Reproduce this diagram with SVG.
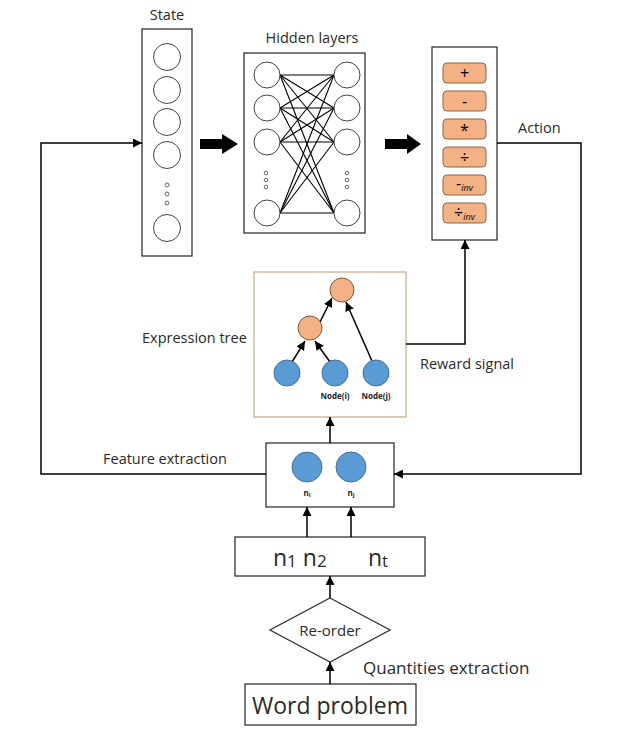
<svg xmlns="http://www.w3.org/2000/svg" width="640" height="749" viewBox="0 0 640 749">
<defs>
<style>
.box{fill:#fff;stroke:#333;stroke-width:1.3}
.nn{fill:#fff;stroke:#444;stroke-width:1}
.dot{fill:#fff;stroke:#666;stroke-width:1}
.op{fill:#F4B183;stroke:#8A6542;stroke-width:1}
.or{fill:#F4B183;stroke:#7a5a3a;stroke-width:1}
.bl{fill:#5B9BD5;stroke:#41719C;stroke-width:1}
.ln{fill:none;stroke:#000;stroke-width:1.5}
.wl{stroke:#000;stroke-width:1.1}
.t{font-family:"Open Sans","Noto Sans",sans-serif;fill:#2a2a2a}
.lab{font-size:14.5px}
.ops{font-size:16px;text-anchor:middle;fill:#000}
.sm{font-family:"Open Sans","Noto Sans",sans-serif;font-size:8px;font-weight:bold;fill:#222;text-anchor:middle}
</style>
<marker id="ah" viewBox="0 0 10 10" refX="10" refY="5" markerWidth="9" markerHeight="9" markerUnits="userSpaceOnUse" orient="auto">
<path d="M0,0 L10,5 L0,10 z" fill="#000"/>
</marker>
</defs>

<g id="state">
<text class="t lab" x="167" y="20" text-anchor="middle">State</text>
<rect class="box" x="142" y="29" width="50" height="227"/>
<circle class="nn" cx="167" cy="57" r="13.5"/>
<circle class="nn" cx="167" cy="90" r="13.5"/>
<circle class="nn" cx="167" cy="122" r="13.5"/>
<circle class="nn" cx="167" cy="155" r="13.5"/>
<circle class="dot" cx="167" cy="185" r="2"/>
<circle class="dot" cx="167" cy="194" r="2"/>
<circle class="dot" cx="167" cy="203" r="2"/>
<circle class="nn" cx="167" cy="228" r="13.5"/>
</g>

<g id="hidden">
<text class="t lab" x="312" y="43" text-anchor="middle">Hidden layers</text>
<rect class="box" x="244" y="53" width="121" height="180"/>
<g class="wl">
<line x1="280" y1="75" x2="334" y2="75"/><line x1="280" y1="75" x2="334" y2="108"/><line x1="280" y1="75" x2="334" y2="142"/><line x1="280" y1="75" x2="334" y2="213"/>
<line x1="280" y1="108" x2="334" y2="75"/><line x1="280" y1="108" x2="334" y2="108"/><line x1="280" y1="108" x2="334" y2="142"/><line x1="280" y1="108" x2="334" y2="213"/>
<line x1="280" y1="142" x2="334" y2="75"/><line x1="280" y1="142" x2="334" y2="108"/><line x1="280" y1="142" x2="334" y2="142"/><line x1="280" y1="142" x2="334" y2="213"/>
<line x1="280" y1="213" x2="334" y2="75"/><line x1="280" y1="213" x2="334" y2="108"/><line x1="280" y1="213" x2="334" y2="142"/><line x1="280" y1="213" x2="334" y2="213"/>
</g>
<circle class="nn" cx="267" cy="75" r="13"/>
<circle class="nn" cx="267" cy="108" r="13"/>
<circle class="nn" cx="267" cy="142" r="13"/>
<circle class="nn" cx="267" cy="213" r="13"/>
<circle class="nn" cx="347" cy="75" r="13"/>
<circle class="nn" cx="347" cy="108" r="13"/>
<circle class="nn" cx="347" cy="142" r="13"/>
<circle class="nn" cx="347" cy="213" r="13"/>
<circle class="dot" cx="266" cy="173" r="1.8"/><circle class="dot" cx="266" cy="180" r="1.8"/><circle class="dot" cx="266" cy="187" r="1.8"/>
<circle class="dot" cx="347" cy="173" r="1.8"/><circle class="dot" cx="347" cy="180" r="1.8"/><circle class="dot" cx="347" cy="187" r="1.8"/>
</g>

<g id="action">
<rect class="box" x="432" y="47" width="65" height="193"/>
<rect class="op" x="443" y="63" width="43" height="20" rx="4"/>
<rect class="op" x="443" y="91" width="43" height="20" rx="4"/>
<rect class="op" x="443" y="119" width="43" height="20" rx="4"/>
<rect class="op" x="443" y="147" width="43" height="20" rx="4"/>
<rect class="op" x="443" y="175" width="43" height="20" rx="4"/>
<rect class="op" x="443" y="203" width="43" height="20" rx="4"/>
<text class="t ops" x="464.5" y="79">+</text>
<text class="t ops" x="464.5" y="107">-</text>
<text class="t ops" x="464.5" y="136">*</text>
<text class="t ops" x="464.5" y="163">÷</text>
<text class="t ops" x="464.5" y="189">-<tspan font-size="9" font-style="italic" dy="2">inv</tspan></text>
<text class="t ops" x="464.5" y="218">÷<tspan font-size="9" font-style="italic" dy="2">inv</tspan></text>
<text class="t lab" x="518" y="133">Action</text>
</g>

<g id="exprtree">
<text class="t lab" x="142" y="343">Expression tree</text>
<rect x="254" y="272" width="152" height="145" fill="#fff" stroke="#C8A888" stroke-width="1.2"/>
<line class="ln" x1="292" y1="362" x2="305" y2="341" stroke-width="1.2" marker-end="url(#ah)"/>
<line class="ln" x1="330" y1="362" x2="315" y2="341" stroke-width="1.2" marker-end="url(#ah)"/>
<line class="ln" x1="320" y1="322" x2="332" y2="298" stroke-width="1.2" marker-end="url(#ah)"/>
<line class="ln" x1="372" y1="361" x2="346" y2="302" stroke-width="1.2" marker-end="url(#ah)"/>
<circle class="or" cx="342" cy="290" r="12"/>
<circle class="or" cx="310" cy="328" r="12"/>
<circle class="bl" cx="287" cy="373" r="13"/>
<circle class="bl" cx="335" cy="373" r="13"/>
<circle class="bl" cx="376" cy="373" r="13"/>
<text class="sm" x="335" y="399">Node(i)</text>
<text class="sm" x="376" y="399">Node(j)</text>
<text class="t lab" x="420" y="369">Reward signal</text>
</g>

<g id="feature">
<text class="t lab" x="103" y="464">Feature extraction</text>
<rect class="box" x="266" y="443" width="128" height="64"/>
<circle class="bl" cx="307" cy="467" r="15"/>
<circle class="bl" cx="351" cy="467" r="15"/>
<text class="sm" x="307" y="496">n<tspan font-size="6" dy="1">i</tspan></text>
<text class="sm" x="351" y="496">n<tspan font-size="6" dy="1">j</tspan></text>
</g>

<g id="quantities">
<rect class="box" x="235" y="537" width="190" height="39"/>
<text class="t" x="273" y="566" font-size="23">n<tspan font-size="17" dy="1">1</tspan><tspan dy="-1"> n</tspan><tspan font-size="17" dy="1">2</tspan></text>
<text class="t" x="368" y="566" font-size="23">n<tspan font-size="17" dy="1">t</tspan></text>
</g>

<g id="reorder">
<polygon points="330,598 390,630 330,662 270,630" fill="#fff" stroke="#333" stroke-width="1.3"/>
<text class="t" x="330" y="636" font-size="15" text-anchor="middle">Re-order</text>
<text class="t" x="363" y="674" font-size="17">Quantities extraction</text>
</g>

<g id="wordproblem">
<rect class="box" x="245" y="684" width="171" height="41"/>
<text class="t" x="330" y="714" font-size="23" text-anchor="middle" fill="#000">Word problem</text>
</g>

<g id="connectors">
<polygon points="200,139 222,139 222,134 238,144 222,154 222,149 200,149" fill="#000"/>
<polygon points="385,139 407,139 407,134 421,144 407,154 407,149 385,149" fill="#000"/>
<polyline class="ln" points="266,474 41,474 41,143 142,143" marker-end="url(#ah)"/>
<polyline class="ln" points="497,143 581,143 581,474 394,474" marker-end="url(#ah)"/>
<polyline class="ln" points="406,344 465,344 465,240" marker-end="url(#ah)"/>
<line class="ln" x1="330" y1="443" x2="330" y2="417" marker-end="url(#ah)"/>
<line class="ln" x1="307" y1="537" x2="307" y2="507" marker-end="url(#ah)"/>
<line class="ln" x1="351" y1="537" x2="351" y2="507" marker-end="url(#ah)"/>
<line class="ln" x1="330" y1="598" x2="330" y2="576" marker-end="url(#ah)"/>
<line class="ln" x1="330" y1="684" x2="330" y2="662" marker-end="url(#ah)"/>
</g>
</svg>
